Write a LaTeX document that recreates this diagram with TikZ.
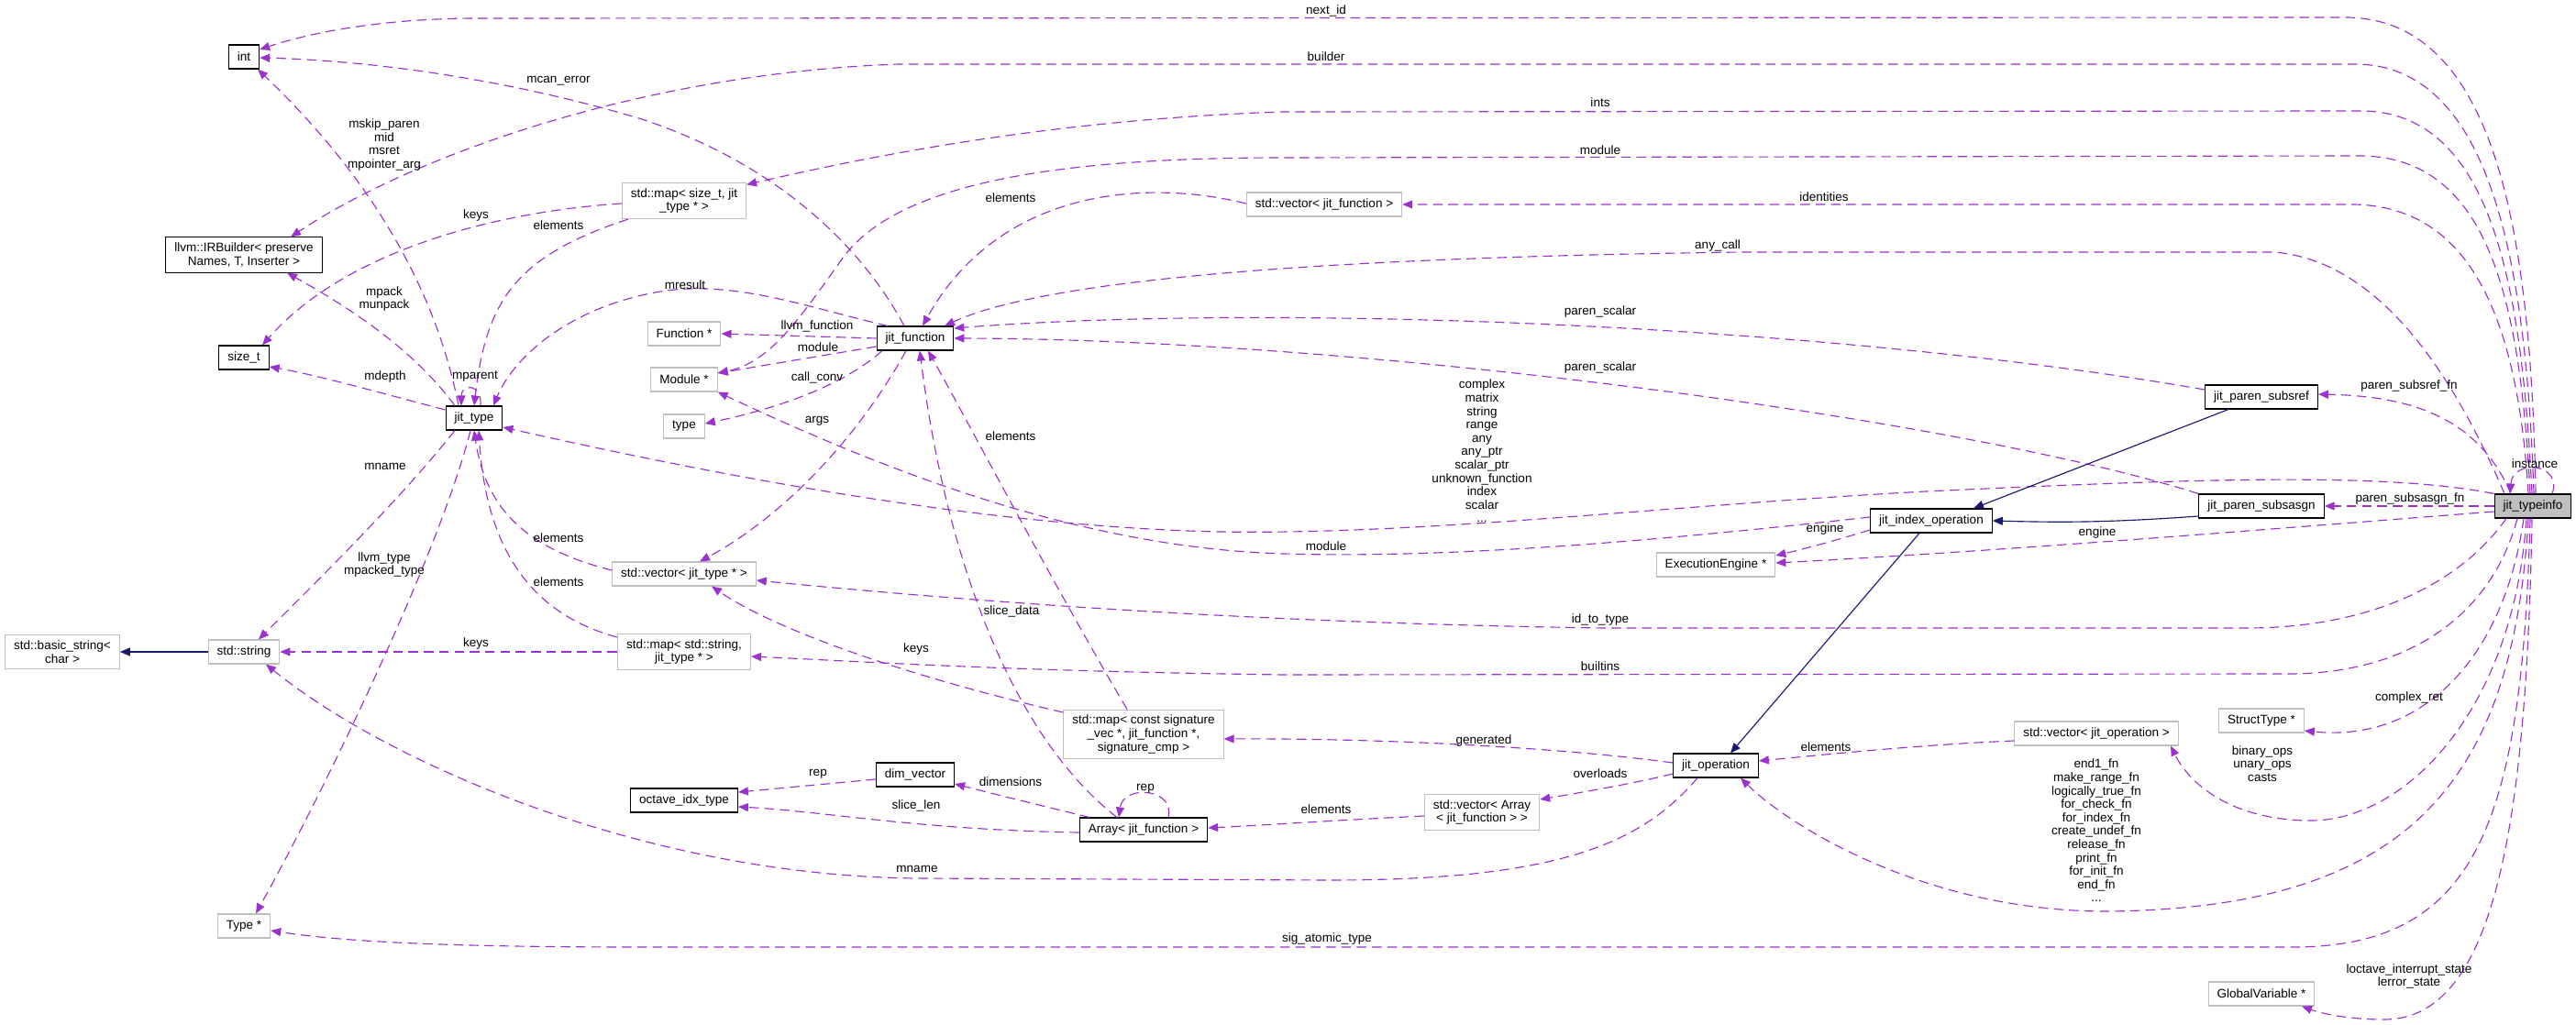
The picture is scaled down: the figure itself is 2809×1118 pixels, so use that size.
\documentclass[tikz,border=0pt]{standalone}
\usepackage{fontspec}
\setmainfont{Liberation Sans}
\usetikzlibrary{arrows.meta}
\definecolor{Usage}{HTML}{9A32CD}
\definecolor{Inherit}{HTML}{191970}
\definecolor{Undoc}{HTML}{BFBFBF}
\definecolor{Focus}{HTML}{BFBFBF}

\begin{document}
\begin{tikzpicture}[x=0.02cm,y=-0.02cm,
  every node/.style={font=\fontsize{7.7}{8.3}\selectfont},
  cls/.style={draw=black,line width=.6pt,fill=white,align=center,inner xsep=.19cm,inner ysep=.12cm,minimum height=.52cm},
  ext/.style={cls,draw=Undoc},
  lbl/.style={inner sep=0pt,align=center},
  use/.style={Usage,line width=.65pt,dash pattern=on 6pt off 3.5pt,-{Triangle[length=.22cm,width=.18cm]}},
  inh/.style={Inherit,line width=.65pt,-{Triangle[length=.22cm,width=.18cm]}}]
  \useasboundingbox (0,0) rectangle (2809,1118);

  % Classes.
  \node[cls] (int) at (266,62) {int};
  \node[cls] (builder) at (266,278) {llvm::IRBuilder< preserve\\Names, T, Inserter >};
  \node[cls] (sizet) at (266,390) {size\_t};
  \node[cls] (jittype) at (517,456) {jit\_type};
  \node[ext] (basicstr) at (68,711) {std::basic\_string<\\char >};
  \node[ext] (stdstr) at (266,711) {std::string};
  \node[ext] (typeptr) at (266,1010) {Type *};
  \node[ext] (mapsize) at (746,219) {std::map< size\_t, jit\\\_type * >};
  \node[ext] (funcptr) at (746,364) {Function *};
  \node[ext] (moduleptr) at (746,414) {Module *};
  \node[ext] (typenode) at (746,465) {type};
  \node[cls] (jitfunc) at (998,369) {jit\_function};
  \node[ext] (vecjtype) at (746,626) {std::vector< jit\_type * >};
  \node[ext] (mapstr) at (746,711) {std::map< std::string,\\jit\_type * >};
  \node[ext] (sigmap) at (1247,801) {std::map< const signature\\\_vec *, jit\_function *,\\signature\_cmp >};
  \node[cls] (dimvec) at (998,845) {dim\_vector};
  \node[cls] (idxtype) at (746,873) {octave\_idx\_type};
  \node[cls] (array) at (1247,905) {Array< jit\_function >};
  \node[ext] (vecjfunc) at (1444,223) {std::vector< jit\_function >};
  \node[ext] (vecarray) at (1616,886) {std::vector< Array\\< jit\_function > >};
  \node[ext] (engine) at (1871,616) {ExecutionEngine *};
  \node[cls] (jitop) at (1871,835) {jit\_operation};
  \node[cls] (idxop) at (2106,568) {jit\_index\_operation};
  \node[cls] (subsref) at (2466,433) {jit\_paren\_subsref};
  \node[cls] (subsasgn) at (2466,552) {jit\_paren\_subsasgn};
  \node[cls,fill=Focus] (typeinfo) at (2762,552) {jit\_typeinfo};
  \node[ext] (vecop) at (2286,800) {std::vector< jit\_operation >};
  \node[ext] (structptr) at (2466,786) {StructType *};
  \node[ext] (globvar) at (2466,1084) {GlobalVariable *};

  % Members of jit_typeinfo.
  \draw[use] ([xshift=.06cm]typeinfo.north) .. controls (2760,250) and (2720,22) .. (2560,19) -- (520,20) .. controls (420,20) and (340,35) .. ([yshift=.16cm]int.east);
  \draw[use] ([xshift=.02cm]typeinfo.north) .. controls (2755,300) and (2720,72) .. (2570,70) -- (980,70) .. controls (700,80) and (450,170) .. ([xshift=1.02cm]builder.north);
  \draw[use] ([xshift=-.02cm]typeinfo.north) .. controls (2750,320) and (2720,122) .. (2575,121) -- (1400,122) .. controls (1150,130) and (950,170) .. ([yshift=-.05cm]mapsize.north east);
  \draw[use] ([xshift=-.06cm]typeinfo.north) .. controls (2748,330) and (2715,172) .. (2575,170) -- (1400,172) .. controls (1150,172) and (980,200) .. (920,280) .. controls (870,350) and (840,395) .. ([yshift=.14cm]moduleptr.east);
  \draw[use] ([xshift=-.1cm]typeinfo.north) .. controls (2745,340) and (2690,221) .. (2560,223) -- (vecjfunc.east);
  \draw[use] ([xshift=-.62cm]typeinfo.north) .. controls (2680,420) and (2600,285) .. (2480,275) -- (1900,275) .. controls (1500,280) and (1150,300) .. ([xshift=.64cm]jitfunc.north);
  \draw[use] ([xshift=-.48cm]typeinfo.north) .. controls (2700,450) and (2620,432) .. ([yshift=.06cm]subsref.east);
  \draw[use] (typeinfo.west) -- (subsasgn.east);
  \draw[use] ([xshift=.42cm]typeinfo.north) .. controls (2795,505) and (2740,500) .. ([xshift=-.5cm]typeinfo.north);
  \draw[use] (typeinfo.north west) .. controls (2600,515) and (2400,522) .. (2100,536) .. controls (1800,552) and (1500,590) .. (1273,578) .. controls (1000,565) and (700,500) .. ([yshift=-.2cm]jittype.east);
  \draw[use] ([yshift=-.12cm]typeinfo.west) .. controls (2500,575) and (2200,600) .. ([yshift=.04cm]engine.east);
  \draw[use] ([xshift=-.58cm]typeinfo.south) .. controls (2680,640) and (2580,685) .. (2450,685) -- (1750,685) .. controls (1400,680) and (1100,660) .. ([yshift=-.14cm]vecjtype.east);
  \draw[use] ([xshift=-.34cm]typeinfo.south) .. controls (2720,660) and (2640,733) .. (2500,735) -- (1400,736) .. controls (1100,732) and (950,722) .. ([yshift=-.1cm]mapstr.east);
  \draw[use] ([xshift=-.2cm]typeinfo.south) .. controls (2730,720) and (2640,810) .. ([yshift=-.22cm]structptr.east);
  \draw[use] ([xshift=-.14cm]typeinfo.south) .. controls (2740,780) and (2620,895) .. (2520,895) .. controls (2440,895) and (2390,860) .. ([xshift=1.62cm]vecop.south);
  \draw[use] ([xshift=-.1cm]typeinfo.south) .. controls (2740,860) and (2620,990) .. (2300,994) .. controls (2100,995) and (1950,900) .. ([xshift=.54cm]jitop.south);
  \draw[use] ([xshift=-.06cm]typeinfo.south) .. controls (2750,900) and (2700,1033) .. (2500,1033) -- (700,1033) .. controls (500,1033) and (380,1028) .. ([yshift=-.1cm]typeptr.east);
  \draw[use] ([xshift=-.02cm]typeinfo.south) .. controls (2755,900) and (2720,1112) .. (2600,1112) .. controls (2560,1112) and (2530,1105) .. ([xshift=.88cm]globvar.south);

  % Other members.
  \draw[use] ([yshift=.16cm]subsref.west) .. controls (2000,355) and (1400,330) .. ([yshift=.22cm]jitfunc.east);
  \draw[use] (subsasgn.north west) .. controls (2150,460) and (1500,370) .. (jitfunc.east);
  \draw[use] ([yshift=.08cm]idxop.west) .. controls (1850,585) and (1600,610) .. (1400,604) .. controls (1200,598) and (1000,530) .. (moduleptr.south east);
  \draw[use] ([yshift=-.2cm]idxop.west) .. controls (2000,590) and (1970,598) .. ([yshift=.2cm]engine.east);
  \draw[use] ([xshift=-.34cm]jittype.north) .. controls (470,290) and (380,170) .. ([xshift=.3cm]int.south);
  \draw[use] ([xshift=-.42cm]jittype.north) .. controls (450,380) and (380,335) .. ([xshift=.94cm]builder.south);
  \draw[use] ([yshift=.18cm]jittype.west) .. controls (420,430) and (350,410) .. ([yshift=-.2cm]sizet.east);
  \draw[use] ([xshift=.14cm]jittype.north) .. controls (526,418) and (503,418) .. ([xshift=-.28cm]jittype.north);
  \draw[use] ([yshift=-.06cm]mapsize.west) .. controls (550,230) and (380,270) .. ([xshift=.4cm]sizet.north);
  \draw[use] ([xshift=.14cm]mapsize.south west) .. controls (560,280) and (530,330) .. (jittype.north);
  \draw[use] ([xshift=-.6cm]jitfunc.north) .. controls (880,335) and (800,305) .. (720,318) .. controls (620,335) and (560,390) .. ([xshift=.42cm]jittype.north);
  \draw[use] ([xshift=-.24cm]jitfunc.north) .. controls (940,270) and (850,180) .. (700,130) .. controls (550,85) and (400,66) .. ([yshift=-.02cm]int.east);
  \draw[use] (jitfunc.west) -- (funcptr.east);
  \draw[use] ([yshift=-.18cm]jitfunc.west) -- ([yshift=.14cm]moduleptr.east);
  \draw[use] ([xshift=-.72cm]jitfunc.south) .. controls (920,420) and (850,445) .. ([yshift=.06cm]typenode.east);
  \draw[use] ([xshift=-.2cm]jitfunc.south) .. controls (940,470) and (860,560) .. ([xshift=.34cm]vecjtype.north);
  \draw[use] ([yshift=.02cm]vecjfunc.west) .. controls (1250,195) and (1090,205) .. ([xshift=.16cm]jitfunc.north);
  \draw[use] ([xshift=-.36cm]sigmap.north) .. controls (1150,640) and (1050,450) .. ([xshift=.28cm]jitfunc.south);
  \draw[use] ([xshift=-.58cm]array.north) .. controls (1100,800) and (1030,600) .. ([xshift=.1cm]jitfunc.south);
  \draw[use] ([yshift=.48cm]sigmap.west) .. controls (1000,740) and (850,690) .. ([xshift=.6cm]vecjtype.south);
  \draw[use] ([yshift=.08cm]vecjtype.west) .. controls (580,600) and (530,560) .. (jittype.south);
  \draw[use] ([yshift=.32cm]mapstr.west) .. controls (580,670) and (530,600) .. ([xshift=.1cm]jittype.south);
  \draw[use] (mapstr.west) -- (stdstr.east);
  \draw[use] ([xshift=-.42cm]jittype.south) .. controls (440,540) and (360,620) .. ([xshift=.32cm]stdstr.north);
  \draw[use] ([xshift=-.08cm]jittype.south) .. controls (480,600) and (360,850) .. ([xshift=.26cm]typeptr.north);
  \draw[use] ([xshift=-.4cm]jitop.south) .. controls (1790,920) and (1700,960) .. (1450,960) -- (1000,958) .. controls (700,955) and (420,830) .. ([xshift=.48cm]stdstr.south);
  \draw[use] ([yshift=-.1cm]dimvec.west) -- ([yshift=.18cm]idxtype.east);
  \draw[use] ([yshift=-.06cm]array.west) .. controls (1000,905) and (900,885) .. ([yshift=-.14cm]idxtype.east);
  \draw[use] ([xshift=-1.18cm]array.north) .. controls (1120,875) and (1080,865) .. ([yshift=-.2cm]dimvec.east);
  \draw[use] ([xshift=.54cm]array.north) .. controls (1282,860) and (1225,855) .. ([xshift=-.54cm]array.north);
  \draw[use] ([yshift=-.08cm]vecarray.west) .. controls (1450,895) and (1380,900) .. ([yshift=.04cm]array.east);
  \draw[use] ([yshift=.06cm]jitop.west) .. controls (1700,815) and (1500,805) .. ([yshift=-.1cm]sigmap.east);
  \draw[use] ([yshift=-.18cm]jitop.west) .. controls (1780,855) and (1720,865) .. ([yshift=.28cm]vecarray.east);
  \draw[use] ([yshift=-.16cm]vecop.west) .. controls (2100,812) and (2000,822) .. ([yshift=.1cm]jitop.east);

  % Inheritance.
  \draw[inh] ([xshift=-.26cm]idxop.south) -- ([xshift=.32cm]jitop.north);
  \draw[inh] ([xshift=-.72cm]subsref.south) -- ([xshift=.92cm]idxop.north);
  \draw[inh] ([yshift=-.22cm]subsasgn.west) .. controls (2300,570) and (2250,570) .. (idxop.east);
  \draw[inh] (stdstr.west) -- (basicstr.east);

  % Edge labels.
  \node[lbl] (l-nextid) at (1446,12) {next\_id};
  \node[lbl] (l-builder) at (1446,62) {builder};
  \node[lbl] (l-ints) at (1745,112) {ints};
  \node[lbl] (l-module) at (1745,164) {module};
  \node[lbl] (l-identities) at (1989,215) {identities};
  \node[lbl] (l-anycall) at (1873,268) {any\_call};
  \node[lbl] (l-scalarref) at (1745,340) {paren\_scalar};
  \node[lbl] (l-scalarasgn) at (1745,401) {paren\_scalar};
  \node[lbl] (l-types) at (1616,492) {complex\\matrix\\string\\range\\any\\any\_ptr\\scalar\_ptr\\unknown\_function\\index\\scalar\\...};
  \node[lbl] (l-idxmodule) at (1446,596) {module};
  \node[lbl] (l-idxengine) at (1990,577) {engine};
  \node[lbl] (l-engine) at (2287,581) {engine};
  \node[lbl] (l-subsref) at (2627,421) {paren\_subsref\_fn};
  \node[lbl] (l-instance) at (2764,506) {instance};
  \node[lbl] (l-subsasgn) at (2628,544) {paren\_subsasgn\_fn};
  \node[lbl] (l-idtotype) at (1745,676) {id\_to\_type};
  \node[lbl] (l-builtins) at (1745,727) {builtins};
  \node[lbl] (l-complexret) at (2627,761) {complex\_ret};
  \node[lbl] (l-ops) at (2467,833) {binary\_ops\\unary\_ops\\casts};
  \node[lbl] (l-fns) at (2286,906) {end1\_fn\\make\_range\_fn\\logically\_true\_fn\\for\_check\_fn\\for\_index\_fn\\create\_undef\_fn\\release\_fn\\print\_fn\\for\_init\_fn\\end\_fn\\...};
  \node[lbl] (l-sigatomic) at (1447,1024) {sig\_atomic\_type};
  \node[lbl] (l-state) at (2627,1065) {loctave\_interrupt\_state\\lerror\_state};
  \node[lbl] (l-canerror) at (609,88) {mcan\_error};
  \node[lbl] (l-mskip) at (419,158) {mskip\_paren\\mid\\msret\\mpointer\_arg};
  \node[lbl] (l-sizekeys) at (519,235) {keys};
  \node[lbl] (l-sizeelems) at (609,246) {elements};
  \node[lbl] (l-mpack) at (419,326) {mpack\\munpack};
  \node[lbl] (l-mdepth) at (420,411) {mdepth};
  \node[lbl] (l-mparent) at (518,411) {mparent};
  \node[lbl] (l-typename) at (420,509) {mname};
  \node[lbl] (l-llvmtype) at (419,616) {llvm\_type\\mpacked\_type};
  \node[lbl] (l-vecelems) at (609,587) {elements};
  \node[lbl] (l-mapelems) at (609,635) {elements};
  \node[lbl] (l-strkeys) at (519,702) {keys};
  \node[lbl] (l-fnelems) at (1102,216) {elements};
  \node[lbl] (l-mresult) at (747,311) {mresult};
  \node[lbl] (l-llvmfn) at (891,356) {llvm\_function};
  \node[lbl] (l-fnmodule) at (892,379) {module};
  \node[lbl] (l-callconv) at (891,412) {call\_conv};
  \node[lbl] (l-args) at (891,459) {args};
  \node[lbl] (l-sigelems) at (1102,476) {elements};
  \node[lbl] (l-slicedata) at (1103,667) {slice\_data};
  \node[lbl] (l-sigkeys) at (999,708) {keys};
  \node[lbl] (l-dimrep) at (892,844) {rep};
  \node[lbl] (l-dimensions) at (1102,853) {dimensions};
  \node[lbl] (l-arrrep) at (1249,860) {rep};
  \node[lbl] (l-slicelen) at (999,879) {slice\_len};
  \node[lbl] (l-opname) at (1000,948) {mname};
  \node[lbl] (l-generated) at (1618,808) {generated};
  \node[lbl] (l-overloads) at (1745,844) {overloads};
  \node[lbl] (l-arrelems) at (1446,883) {elements};
  \node[lbl] (l-opelems) at (1991,815) {elements};
\end{tikzpicture}
\end{document}
